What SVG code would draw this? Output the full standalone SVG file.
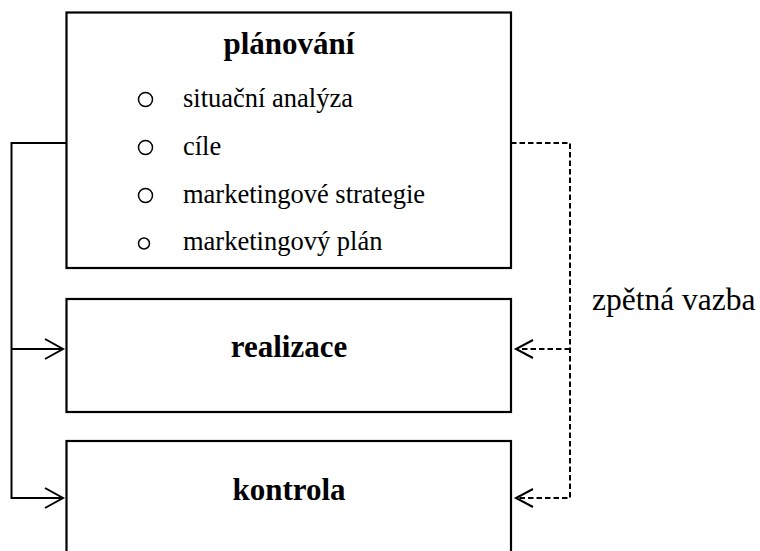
<svg xmlns="http://www.w3.org/2000/svg" width="760" height="551" viewBox="0 0 760 551">
<style>
.box{fill:#fff;stroke:#000;stroke-width:2.2}
.ln{fill:none;stroke:#000;stroke-width:2}
.dash{fill:none;stroke:#000;stroke-width:2;stroke-dasharray:5.5,3}
.head{fill:none;stroke:#000;stroke-width:2}
.title{font-family:"Liberation Serif","Times New Roman",serif;font-weight:bold;font-size:31px;text-anchor:middle;fill:#000}
.item{font-family:"Liberation Serif","Times New Roman",serif;font-size:26.5px;fill:#000}
.bul{fill:none;stroke:#000;stroke-width:1.5}
.lbl{font-family:"Liberation Serif","Times New Roman",serif;font-size:31.5px;fill:#000}
</style>
<rect width="760" height="551" fill="#fff"/>
<g id="connectors">
<polyline class="ln" points="66.5,143 11.5,143 11.5,498 63,498"/>
<line class="ln" x1="11.5" y1="349" x2="63" y2="349"/>
<polyline class="head" points="45,339 63,349 45,359"/>
<polyline class="head" points="45,488 63,498 45,508"/>
<polyline class="dash" points="511,143 570,143 570,498 518,498"/>
<line class="dash" x1="570" y1="349" x2="518" y2="349"/>
<polyline class="head" points="533,340 516,349 533,358"/>
<polyline class="head" points="533,489 516,498 533,507"/>
</g>
<g id="planovani">
<rect class="box" x="66.5" y="12.5" width="444.5" height="255.5"/>
<text class="title" x="289" y="54">plánování</text>
<circle class="bul" cx="145.5" cy="99.5" r="7"/>
<text class="item" x="183" y="107">situační analýza</text>
<circle class="bul" cx="145.5" cy="147.5" r="7"/>
<text class="item" x="183" y="155">cíle</text>
<circle class="bul" cx="145.5" cy="195.5" r="7"/>
<text class="item" x="183" y="203">marketingové strategie</text>
<circle class="bul" cx="144" cy="243.5" r="5.5"/>
<text class="item" x="183" y="250">marketingový plán</text>
</g>
<g id="realizace">
<rect class="box" x="66.5" y="299" width="444.5" height="113"/>
<text class="title" x="289" y="357">realizace</text>
</g>
<g id="kontrola">
<rect class="box" x="66.5" y="441" width="444.5" height="140"/>
<text class="title" x="289" y="500">kontrola</text>
</g>
<g id="label">
<text class="lbl" x="592" y="310">zpětná vazba</text>
</g>
</svg>
